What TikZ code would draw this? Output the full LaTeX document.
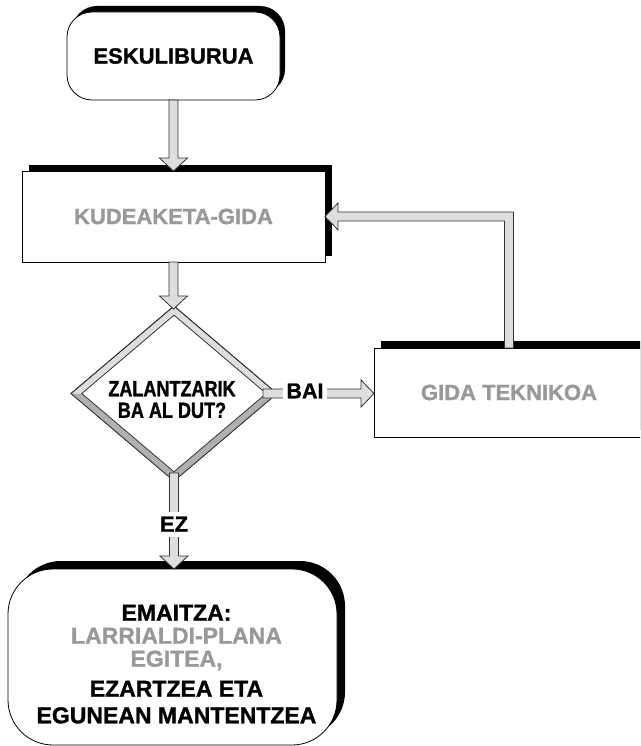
\documentclass[tikz,border=0pt]{standalone}
\usepackage{fontspec}
\setmainfont{Liberation Sans}[BoldFeatures={FakeBold=1.2}]
\newfontfamily\narrowfont{Liberation Sans}[FakeStretch=0.82,BoldFeatures={FakeBold=1.2}]
\usetikzlibrary{calc,shapes.geometric,shadows}
\definecolor{arrowfill}{HTML}{DEDEDE}
\definecolor{outl}{HTML}{333333}
\definecolor{txtgray}{HTML}{999999}
\definecolor{bevdark}{HTML}{B0B0B0}
\definecolor{bevlight}{HTML}{DEDEDE}
\newcommand\fatdown[2]{%
  \draw[fatarrow] let \p1=(#1), \p2=(#2) in
    (\x1-4.5pt,\y1) -- (\x1-4.5pt,\y2+13pt) -- (\x1-14pt,\y2+13pt) -- (\x1,\y2)
    -- (\x1+14pt,\y2+13pt) -- (\x1+4.5pt,\y2+13pt) -- (\x1+4.5pt,\y1) -- cycle;}
\newcommand\fatright[2]{%
  \draw[fatarrow] let \p1=(#1), \p2=(#2) in
    (\x1,\y1+4.5pt) -- (\x2-13pt,\y1+4.5pt) -- (\x2-13pt,\y1+13.5pt) -- (\x2,\y1)
    -- (\x2-13pt,\y1-13.5pt) -- (\x2-13pt,\y1-4.5pt) -- (\x1,\y1-4.5pt) -- cycle;}
\newcommand\fatelbow[2]{%
  \draw[fatarrow] let \p1=(#1), \p2=(#2) in
    (\x1-4.5pt,\y1) -- (\x1-4.5pt,\y2-4.5pt) -- (\x2+13pt,\y2-4.5pt) -- (\x2+13pt,\y2-13.5pt)
    -- (\x2,\y2) -- (\x2+13pt,\y2+13.5pt) -- (\x2+13pt,\y2+4.5pt) -- (\x1+4.5pt,\y2+4.5pt)
    -- (\x1+4.5pt,\y1) -- cycle;}
\begin{document}
\begin{tikzpicture}[x=1pt,y=-1pt,
  box/.style={draw=black, fill=white, line width=0.8pt, inner sep=0pt, outer sep=0pt},
  fatarrow/.style={fill=arrowfill, draw=outl, line width=0.8pt, line join=miter},
  bigtxt/.style={font=\bfseries\fontsize{22}{26}\selectfont},
  lbl/.style={font=\bfseries\fontsize{21.5}{26}\selectfont, fill=white, inner xsep=3pt, inner ysep=5pt}]
\path[use as bounding box] (0,0) rectangle (640,746);
\clip (0,0) rectangle (640,746);

% boxes
\node[box, bigtxt, rounded corners=25pt, minimum width=213pt, minimum height=88pt,
  general shadow={fill=black, shadow xshift=5pt, shadow yshift=6pt}] (top) at (173.5,56) {ESKULIBURUA};
\node[box, bigtxt, text=txtgray, minimum width=303pt, minimum height=91pt,
  general shadow={fill=black, shadow xshift=7pt, shadow yshift=6pt}] (kud) at (173.5,216.5) {KUDEAKETA-GIDA};
\node[box, bigtxt, text=txtgray, minimum width=270pt, minimum height=89pt,
  general shadow={fill=black, shadow xshift=7pt, shadow yshift=7pt}] (gida) at (509,392.5) {GIDA TEKNIKOA};
\node[box, rounded corners=45pt, minimum width=329pt, minimum height=176pt,
  general shadow={fill=black, shadow xshift=8pt, shadow yshift=8pt}] (em) at (172.5,657) {};

% decision diamond with bevel
\node[diamond, draw=outl, fill=bevlight, line width=0.8pt, minimum width=206pt, minimum height=175pt,
  inner sep=0pt, outer sep=0pt] (dec) at (174,393.5) {};
\coordinate (iw) at ($(dec.center)+(-92.2,0)$);
\coordinate (ie) at ($(dec.center)+(92.2,0)$);
\coordinate (in) at ($(dec.center)+(0,-78.3)$);
\coordinate (is) at ($(dec.center)+(0,78.3)$);
\fill[bevdark] (dec.west) -- (dec.south) -- (dec.east) -- (ie) -- (is) -- (iw) -- cycle;
\draw[outl, fill=white, line width=0.8pt] (iw) -- (in) -- (ie) -- (is) -- cycle;
\draw[outl, line width=0.8pt] (dec.north) -- (dec.east) -- (dec.south) -- (dec.west) -- cycle;
\node[font=\narrowfont\bfseries\fontsize{22}{21.6}\selectfont, align=center, inner sep=0pt] (dectext) at (172,399.6) {ZALANTZARIK\\BA AL DUT?};

% connectors
\coordinate (dectop) at ($(dec.north)+(0,3)$);
\coordinate (decbot) at ($(dec.south)+(0,-8)$);
\coordinate (decright) at ($(dec.east)+(-14,0)$);
\fatdown{top.south}{kud.north}
\fatdown{kud.south}{dectop}
\fatdown{decbot}{em.north}
\fatright{decright}{gida.west}
\fatelbow{gida.north}{kud.east}

% connector labels
\node[lbl, anchor=base] (bai) at (305,398.3) {BAI};
\node[lbl, anchor=base, font=\bfseries\fontsize{22}{26}\selectfont] (ez) at (174,531.7) {EZ};

% result text
\node[font=\bfseries\fontsize{23}{23}\selectfont, align=center, inner sep=0pt] (emtext) at (176.5,664.2)
  {EMAITZA:\\\textcolor{txtgray}{LARRIALDI-PLANA}\\\textcolor{txtgray}{EGITEA,}\\[7pt]EZARTZEA ETA\\[3.6pt]EGUNEAN MANTENTZEA};
\end{tikzpicture}
\end{document}
